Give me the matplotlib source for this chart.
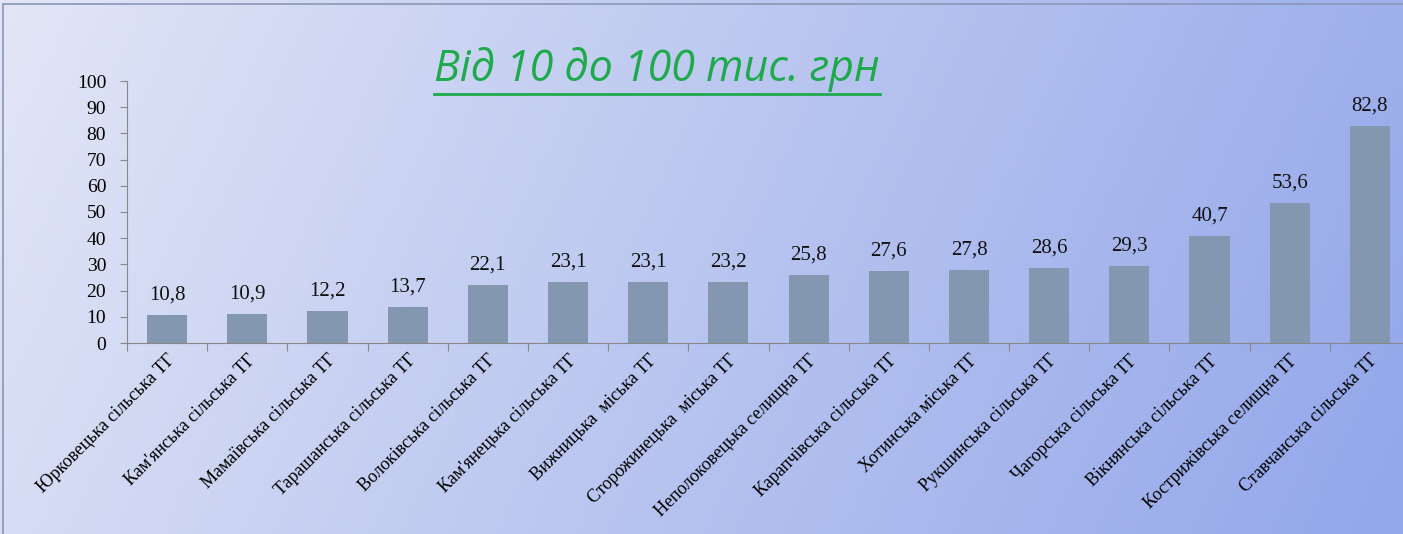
import numpy as np
import matplotlib.pyplot as plt
from matplotlib.patches import Rectangle

# назви громад і значення (тис. грн)
hromady = ["Юрковецька сільська ТГ", "Кам'янська сільська ТГ", "Мамаївська сільська ТГ",
           "Тарашанська сільська ТГ", "Волоківська сільська ТГ", "Кам'янецька сільська ТГ",
           "Вижницька  міська ТГ", "Сторожинецька  міська ТГ", "Неполоковецька селищна ТГ",
           "Карапчівська сільська ТГ", "Хотинська міська ТГ", "Рукшинська сільська ТГ",
           "Чагорська сільська ТГ", "Вікнянська сільська ТГ", "Кострижівська селищна ТГ",
           "Ставчанська сільська ТГ"]
znachennya = [10.8, 10.9, 12.2, 13.7, 22.1, 23.1, 23.1, 23.2, 25.8, 27.6, 27.8, 28.6,
              29.3, 40.7, 53.6, 82.8]
yticks = [0, 10, 20, 30, 40, 50, 60, 70, 80, 90, 100]
naslov = "Від 10 до 100 тис. грн"

W, H = 1403, 534
fig = plt.figure(figsize=(W/100, H/100), dpi=100)

# фон - градієнт
bg = fig.add_axes([0, 0, 1, 1], zorder=-10)
xx = np.linspace(0, 1, 300)
yy = np.linspace(0, 1, 120)
X, Y = np.meshgrid(xx, yy)
t = np.clip(0.85*X + 0.15*Y, 0, 1)
c0 = np.array([226, 230, 246])/255
c1 = np.array([146, 166, 234])/255
img = c0[None, None, :]*(1-t[..., None]) + c1[None, None, :]*t[..., None]
bg.imshow(img, aspect='auto', extent=[0, 1, 0, 1], origin='upper')
bg.set_xlim(0, 1)
bg.set_ylim(0, 1)
bg.axis('off')
bg.add_patch(Rectangle((3/W, -0.1), 1.1, 1.1 - 4/H, fill=False,
                       ec='#8a97b5', lw=1.2, transform=bg.transAxes, clip_on=False))

ax = fig.add_axes([127/W, (H-343)/H, 1283/W, 262/H])
ax.patch.set_alpha(0)
x = np.arange(len(znachennya))
ax.bar(x, znachennya, width=0.5, color='#8497b0', zorder=2)
for xi, v in zip(x, znachennya):
    ax.text(xi, v + 4, f"{v:.1f}".replace('.', ','), ha='center', va='bottom',
            fontsize=15, family='Liberation Serif', color='#111111')

ax.set_xlim(-0.5, 15.5)
ax.set_ylim(0, 100)
ax.set_yticks(yticks)
ax.set_yticklabels([str(v) for v in yticks], family='Liberation Serif', fontsize=14)
ax.set_xticks(np.arange(-0.5, 16, 1))
ax.set_xticklabels([])
ax.set_xticks(x, minor=True)
ax.set_xticklabels(hromady, minor=True, rotation=45, ha='right', rotation_mode='anchor',
                   family='Liberation Serif', fontsize=13)
ax.tick_params(axis='x', which='minor', length=0, pad=6)
ax.tick_params(axis='x', which='major', length=6, color='#888888', direction='out')
ax.tick_params(axis='y', length=5, color='#888888', pad=10)
for s in ['top', 'right']:
    ax.spines[s].set_visible(False)
ax.spines['left'].set_color('#888888')
ax.spines['bottom'].set_color('#888888')

# заголовок з підкресленням
tt = fig.text(657/W, 1 - 69/H, naslov, ha='center', va='center', fontsize=31,
              style='italic', family='Open Sans', color='#1eaa4c')
fig.canvas.draw()
bb = tt.get_window_extent()
bg.plot([bb.x0/W, bb.x1/W], [(bb.y0 - 2)/H, (bb.y0 - 2)/H], color='#1eaa4c', lw=2)

plt.savefig('out.png', dpi=100)
